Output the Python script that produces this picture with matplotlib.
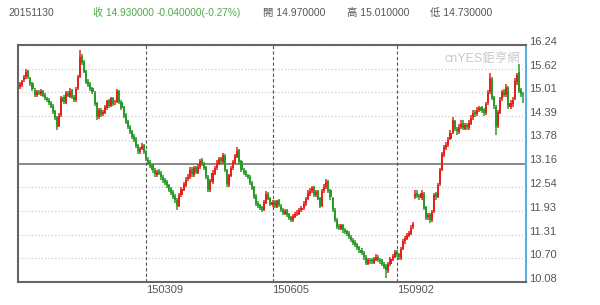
import matplotlib.pyplot as plt
import numpy as np
from matplotlib.transforms import ScaledTranslation

plt.rcParams['font.family'] = ['Liberation Sans', 'Noto Sans CJK TC', 'DejaVu Sans']

# daily candles, 20141202 .. 20151130 (index = trading day)
open_ = [
    15.15, 15.20, 15.32, 15.40, 15.56, 15.38, 15.24, 15.08, 14.94, 15.03,
    14.96, 15.05, 14.93, 14.86, 14.82, 14.74, 14.66, 14.52, 14.36, 14.14,
    14.42, 14.88, 14.74, 15.00, 14.90, 15.06, 14.90, 14.80, 15.12, 15.42,
    15.95, 15.80, 15.56, 15.30, 15.22, 15.12, 15.00, 14.72, 14.38, 14.56,
    14.44, 14.48, 14.60, 14.80, 14.66, 14.86, 14.72, 14.76, 15.04, 14.76,
    14.62, 14.42, 14.26, 14.12, 14.00, 13.88, 13.80, 13.64, 13.46, 13.54,
    13.64, 13.46, 13.26, 13.20, 13.12, 13.00, 12.86, 12.96, 12.92, 12.82,
    12.74, 12.68, 12.60, 12.50, 12.42, 12.32, 12.22, 12.06, 12.34, 12.48,
    12.60, 12.76, 12.80, 13.02, 12.86, 13.06, 12.92, 13.06, 13.24, 13.16,
    13.06, 12.82, 12.46, 12.68, 12.90, 13.04, 13.16, 13.30, 13.20, 13.36,
    12.98, 12.60, 12.84, 13.04, 13.18, 13.34, 13.50, 13.22, 13.00, 12.94,
    12.86, 12.82, 12.66, 12.54, 12.32, 12.14, 12.08, 12.02, 11.96, 12.14,
    12.36, 12.26, 12.08, 12.16, 12.04, 12.20, 12.06, 11.96, 11.86, 11.94,
    11.84, 11.76, 11.68, 11.78, 11.84, 11.86, 11.94, 12.00, 12.10, 12.24,
    12.38, 12.44, 12.54, 12.34, 12.44, 12.26, 12.06, 12.44, 12.54, 12.70,
    12.46, 12.26, 11.96, 11.70, 11.54, 11.46, 11.56, 11.44, 11.40, 11.36,
    11.26, 11.18, 11.12, 11.06, 10.98, 10.92, 10.84, 10.74, 10.56, 10.66,
    10.64, 10.58, 10.66, 10.74, 10.66, 10.64, 10.56, 10.50, 10.36, 10.54,
    10.66, 10.74, 10.86, 10.80, 10.70, 10.94, 11.14, 11.20, 11.28, 11.34,
    11.50, 12.30, 12.40, 12.34, 12.26, 12.38, 12.02, 11.76, 11.84, 11.68,
    11.92, 12.36, 12.30, 12.62, 13.00, 13.38, 13.56, 13.64, 13.80, 13.96,
    14.26, 14.06, 13.98, 14.12, 14.22, 14.06, 14.16, 14.08, 14.20, 14.36,
    14.50, 14.44, 14.56, 14.62, 14.54, 14.46, 14.72, 15.02, 15.36, 14.88,
    14.62, 14.14, 14.48, 14.84, 15.04, 14.94, 15.12, 14.64, 14.70, 14.84,
    15.28, 15.55, 15.06, 14.97,
]
high = [
    15.28, 15.34, 15.46, 15.62, 15.58, 15.42, 15.28, 15.12, 15.08, 15.06,
    15.10, 15.08, 14.98, 14.90, 14.85, 14.78, 14.70, 14.56, 14.40, 14.46,
    14.92, 14.95, 15.04, 15.05, 15.12, 15.10, 14.95, 15.15, 15.46, 16.10,
    16.00, 15.84, 15.60, 15.36, 15.28, 15.16, 15.04, 14.76, 14.60, 14.60,
    14.55, 14.68, 14.82, 14.84, 14.90, 14.90, 14.80, 15.10, 15.08, 14.80,
    14.66, 14.46, 14.30, 14.16, 14.04, 13.92, 13.84, 13.68, 13.60, 13.70,
    13.68, 13.50, 13.32, 13.24, 13.16, 13.04, 13.00, 13.02, 12.96, 12.86,
    12.78, 12.72, 12.64, 12.54, 12.46, 12.36, 12.26, 12.40, 12.56, 12.68,
    12.80, 12.90, 13.06, 13.06, 13.10, 13.10, 13.14, 13.28, 13.30, 13.20,
    13.10, 12.86, 12.76, 12.98, 13.10, 13.24, 13.34, 13.34, 13.44, 13.40,
    13.02, 12.90, 13.10, 13.26, 13.40, 13.60, 13.54, 13.26, 13.04, 12.98,
    12.90, 12.86, 12.70, 12.58, 12.36, 12.18, 12.12, 12.06, 12.20, 12.44,
    12.42, 12.30, 12.20, 12.20, 12.22, 12.24, 12.10, 12.00, 11.98, 11.98,
    11.88, 11.80, 11.84, 11.90, 11.94, 12.00, 12.06, 12.18, 12.30, 12.46,
    12.52, 12.58, 12.58, 12.48, 12.48, 12.30, 12.50, 12.62, 12.76, 12.72,
    12.50, 12.30, 12.00, 11.74, 11.58, 11.60, 11.60, 11.48, 11.44, 11.40,
    11.30, 11.22, 11.16, 11.10, 11.02, 10.96, 10.88, 10.78, 10.70, 10.70,
    10.70, 10.72, 10.80, 10.78, 10.70, 10.68, 10.60, 10.54, 10.60, 10.74,
    10.80, 10.90, 10.90, 10.84, 11.00, 11.20, 11.28, 11.36, 11.40, 11.56,
    11.64, 12.48, 12.46, 12.38, 12.46, 12.42, 12.06, 11.88, 11.88, 11.94,
    12.40, 12.42, 12.66, 13.04, 13.46, 13.64, 13.72, 13.84, 14.02, 14.36,
    14.30, 14.12, 14.18, 14.28, 14.28, 14.22, 14.22, 14.28, 14.42, 14.54,
    14.56, 14.62, 14.66, 14.66, 14.60, 14.76, 15.08, 15.52, 15.42, 14.92,
    14.68, 14.56, 14.88, 15.08, 15.10, 15.22, 15.18, 14.80, 14.88, 15.38,
    15.52, 15.75, 15.12, 15.01,
]
low = [
    15.10, 15.16, 15.28, 15.36, 15.36, 15.18, 15.05, 14.90, 14.90, 14.94,
    14.92, 14.88, 14.80, 14.76, 14.68, 14.60, 14.45, 14.30, 14.02, 14.10,
    14.38, 14.70, 14.70, 14.88, 14.85, 14.84, 14.76, 14.76, 15.08, 15.38,
    15.72, 15.50, 15.22, 15.15, 15.05, 14.96, 14.65, 14.30, 14.32, 14.38,
    14.40, 14.44, 14.56, 14.60, 14.62, 14.66, 14.68, 14.72, 14.70, 14.55,
    14.35, 14.20, 14.05, 13.92, 13.80, 13.72, 13.56, 13.42, 13.42, 13.50,
    13.40, 13.22, 13.12, 13.04, 12.92, 12.82, 12.82, 12.86, 12.74, 12.66,
    12.60, 12.52, 12.42, 12.34, 12.24, 12.14, 11.95, 12.02, 12.30, 12.44,
    12.56, 12.70, 12.76, 12.82, 12.82, 12.90, 12.88, 13.02, 13.10, 13.00,
    12.75, 12.42, 12.42, 12.64, 12.86, 13.00, 13.12, 13.16, 13.16, 12.95,
    12.56, 12.56, 12.80, 13.00, 13.14, 13.30, 13.16, 12.94, 12.86, 12.80,
    12.76, 12.60, 12.46, 12.24, 12.06, 12.00, 11.95, 11.90, 11.92, 12.10,
    12.20, 12.05, 12.04, 12.00, 12.00, 12.04, 11.90, 11.82, 11.82, 11.76,
    11.70, 11.64, 11.64, 11.74, 11.80, 11.82, 11.90, 11.96, 12.06, 12.20,
    12.32, 12.40, 12.30, 12.30, 12.20, 12.00, 12.02, 12.40, 12.50, 12.40,
    12.22, 11.90, 11.64, 11.46, 11.42, 11.42, 11.36, 11.32, 11.28, 11.20,
    11.12, 11.04, 11.00, 10.90, 10.84, 10.78, 10.66, 10.52, 10.52, 10.56,
    10.54, 10.54, 10.62, 10.60, 10.56, 10.50, 10.42, 10.18, 10.32, 10.50,
    10.62, 10.70, 10.74, 10.66, 10.66, 10.90, 11.08, 11.16, 11.24, 11.30,
    11.46, 12.24, 12.26, 12.22, 12.22, 11.96, 11.70, 11.70, 11.62, 11.64,
    11.88, 12.22, 12.26, 12.58, 12.96, 13.34, 13.50, 13.60, 13.76, 13.92,
    14.00, 13.90, 13.94, 14.06, 14.02, 14.02, 14.04, 14.04, 14.16, 14.30,
    14.38, 14.40, 14.50, 14.46, 14.40, 14.42, 14.68, 14.96, 14.80, 14.58,
    13.90, 14.08, 14.44, 14.78, 14.88, 14.90, 14.58, 14.58, 14.64, 14.80,
    15.20, 15.00, 14.88, 14.73,
]
close = [
    15.22, 15.30, 15.42, 15.55, 15.40, 15.22, 15.10, 14.95, 15.02, 14.98,
    15.04, 14.92, 14.85, 14.80, 14.72, 14.64, 14.50, 14.35, 14.12, 14.40,
    14.86, 14.75, 14.98, 14.92, 15.05, 14.88, 14.82, 15.10, 15.40, 15.92,
    15.78, 15.55, 15.28, 15.20, 15.10, 15.02, 14.70, 14.36, 14.55, 14.42,
    14.50, 14.62, 14.78, 14.65, 14.85, 14.70, 14.74, 15.05, 14.75, 14.60,
    14.40, 14.25, 14.10, 13.98, 13.86, 13.78, 13.62, 13.48, 13.55, 13.62,
    13.45, 13.28, 13.18, 13.10, 12.98, 12.88, 12.95, 12.90, 12.80, 12.72,
    12.66, 12.58, 12.48, 12.40, 12.30, 12.20, 12.05, 12.35, 12.50, 12.62,
    12.74, 12.82, 13.00, 12.88, 13.05, 12.94, 13.08, 13.22, 13.15, 13.05,
    12.80, 12.48, 12.70, 12.92, 13.05, 13.18, 13.28, 13.22, 13.38, 13.00,
    12.62, 12.85, 13.05, 13.20, 13.35, 13.48, 13.20, 12.98, 12.92, 12.85,
    12.80, 12.65, 12.52, 12.30, 12.12, 12.05, 12.00, 11.95, 12.15, 12.38,
    12.25, 12.10, 12.15, 12.05, 12.18, 12.08, 11.95, 11.88, 11.92, 11.82,
    11.75, 11.70, 11.80, 11.85, 11.88, 11.95, 12.00, 12.12, 12.25, 12.40,
    12.45, 12.52, 12.35, 12.42, 12.25, 12.05, 12.45, 12.55, 12.68, 12.45,
    12.28, 11.95, 11.70, 11.52, 11.48, 11.55, 11.42, 11.38, 11.34, 11.25,
    11.17, 11.10, 11.05, 10.96, 10.90, 10.83, 10.72, 10.58, 10.65, 10.62,
    10.60, 10.68, 10.72, 10.65, 10.62, 10.55, 10.48, 10.38, 10.55, 10.68,
    10.75, 10.85, 10.78, 10.72, 10.95, 11.15, 11.22, 11.30, 11.35, 11.48,
    11.60, 12.38, 12.32, 12.28, 12.40, 12.00, 11.75, 11.82, 11.70, 11.90,
    12.35, 12.28, 12.60, 12.98, 13.40, 13.58, 13.65, 13.78, 13.95, 14.28,
    14.05, 14.00, 14.12, 14.20, 14.08, 14.15, 14.10, 14.22, 14.35, 14.48,
    14.45, 14.55, 14.60, 14.52, 14.48, 14.70, 15.00, 15.38, 14.85, 14.65,
    14.12, 14.50, 14.82, 15.02, 14.95, 15.15, 14.65, 14.72, 14.82, 15.30,
    15.45, 15.05, 14.97, 14.93,
]

xtick_days = [61, 122, 182]
xtick_labels = ['150309', '150605', '150902']
ytick_values = [10.08, 10.70, 11.31, 11.93, 12.54, 13.16, 13.78, 14.39, 15.01, 15.62, 16.24]
mid_value = 13.16

header_date = '20151130'
header_close = '收 14.930000'
header_change = '-0.040000(-0.27%)'
header_open = '開 14.970000'
header_high = '高 15.010000'
header_low = '低 14.730000'

o = np.array(open_)
h = np.array(high)
l = np.array(low)
c = np.array(close)
days = np.arange(len(c))

up_color = '#e2231a'
down_color = '#2b9a2b'
colors = np.where(c >= o, up_color, down_color)

fig = plt.figure(figsize=(6, 3.05), dpi=100)
ax = fig.add_axes([0.030, 0.0754, 0.8467, 0.777])

# grid
for v in ytick_values:
    if v == mid_value:
        ax.axhline(v, color='#808080', lw=1.3, zorder=1)
    else:
        ax.axhline(v, color='#c4c4c4', lw=0.8, linestyle=(0, (1, 2)), zorder=1)
for d in xtick_days:
    ax.axvline(d, color='#555555', lw=0.8, linestyle=(0, (3, 2)), zorder=1)

ax.vlines(days, l, h, colors=colors, lw=1.1, zorder=3)
ax.bar(days, np.abs(c - o), bottom=np.minimum(o, c), width=1.0,
       color=colors, linewidth=0, zorder=3)

ax.set_xlim(-1, 244.5)
ax.set_ylim(10.08, 16.24)

ax.yaxis.tick_right()
ax.set_yticks(ytick_values)
ax.set_yticklabels([f'{v:.2f}' for v in ytick_values])
ax.set_xticks(xtick_days)
ax.set_xticklabels(xtick_labels, ha='left')
ax.tick_params(axis='both', length=0, labelsize=8, labelcolor='#555555')
ax.tick_params(axis='y', pad=2)
ax.tick_params(axis='x', pad=2)
for lab in ax.get_yticklabels():
    lab.set_transform(lab.get_transform() + ScaledTranslation(0, 3 / 72, fig.dpi_scale_trans))

for side in ['left', 'top', 'bottom']:
    ax.spines[side].set_color('#666666')
    ax.spines[side].set_linewidth(1.5)
ax.spines['right'].set_color('#5aaee0')
ax.spines['right'].set_linewidth(1.5)

# watermark
ax.text(0.988, 0.965, 'cnYES鉅亨網', transform=ax.transAxes, ha='right', va='top',
        fontsize=9, color='#c8c8c8')

# header line
hy = 1 - 13 / 305
fig.text(8 / 600, hy, header_date, fontsize=7.5, color='#555555', va='center')
fig.text(93 / 600, hy, header_close, fontsize=7.3, color='#4caa4c', va='center')
fig.text(157 / 600, hy, header_change, fontsize=7.3, color='#4caa4c', va='center')
fig.text(263 / 600, hy, header_open, fontsize=7.5, color='#555555', va='center')
fig.text(347 / 600, hy, header_high, fontsize=7.5, color='#555555', va='center')
fig.text(430 / 600, hy, header_low, fontsize=7.5, color='#555555', va='center')

fig.savefig('out.png', dpi=100)
